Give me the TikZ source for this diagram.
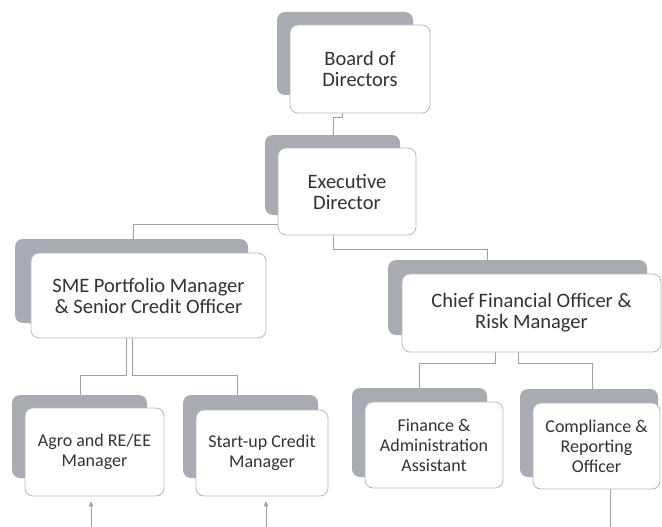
\documentclass[tikz,border=0pt]{standalone}
\usepackage{fontspec}
\setmainfont{Carlito}
\usetikzlibrary{arrows.meta}
\pgfdeclarelayer{background}
\pgfsetlayers{background,main}
\definecolor{shadowgray}{HTML}{A9ABB2}
\definecolor{boxline}{HTML}{B8B8B8}
\definecolor{connline}{HTML}{A0A0A0}
\definecolor{txt}{HTML}{333333}
\tikzset{
  shad/.style={fill=shadowgray, draw=none, rounded corners=8pt, inner sep=0pt},
  front/.style={fill=white, draw=boxline, line width=0.8pt, rounded corners=8pt, inner sep=0pt,
    align=center, text=txt},
  big/.style={font=\fontsize{20.5}{21}\selectfont},
  small/.style={font=\fontsize{18}{20}\selectfont},
  conn/.style={draw=connline, line width=0.8pt},
  arr/.style={draw=connline, line width=0.8pt, -{Triangle[length=5pt,width=4.5pt]}}
}
\begin{document}
\begin{tikzpicture}[x=1pt,y=-1pt]
\useasboundingbox (0,0) rectangle (662,527);
% shadows
\node[shad, minimum width=136pt, minimum height=83pt] (bodS) at (345,53.5) {};
\node[shad, minimum width=135pt, minimum height=80pt] (exeS) at (332.5,175) {};
\node[shad, minimum width=233pt, minimum height=84pt] (smeS) at (131.5,281) {};
\node[shad, minimum width=259pt, minimum height=75pt] (cfoS) at (517.5,297.5) {};
\node[shad, minimum width=135pt, minimum height=83pt] (agrS) at (79.5,436.5) {};
\node[shad, minimum width=135pt, minimum height=83pt] (stuS) at (250.5,436.5) {};
\node[shad, minimum width=135pt, minimum height=89pt] (finS) at (419.5,432.5) {};
\node[shad, minimum width=138pt, minimum height=88pt] (comS) at (589,433) {};
% front boxes
\node[front, big, minimum width=140pt, minimum height=88pt] (bod) at (360,69) {Board of\\Directors};
\node[front, big, minimum width=138pt, minimum height=87pt] (exe) at (347,191.5) {Executive\\Director};
\node[front, big, minimum width=235pt, minimum height=85pt] (sme) at (148.5,295.5) {SME Portfolio Manager\\\& Senior Credit Officer};
\node[front, big, minimum width=259pt, minimum height=78pt] (cfo) at (531.5,313) {Chief Financial Officer \&\\Risk Manager};
\node[front, small, minimum width=139pt, minimum height=88pt] (agr) at (94.5,452) {Agro and RE/EE\\Manager};
\node[front, small, minimum width=132pt, minimum height=86pt] (stu) at (262,453) {Start-up Credit\\Manager};
\node[front, small, minimum width=138pt, minimum height=86pt] (fin) at (434,445) {Finance \&\\Administration\\Assistant};
\node[front, small, minimum width=127pt, minimum height=86pt] (com) at (596.5,446) {Compliance \&\\Reporting\\Officer};
\coordinate (agrin) at (91,527);
\coordinate (stuin) at (266,527);
\coordinate (comout) at (610,527);
% connectors, behind the boxes
\begin{pgfonlayer}{background}
\draw[conn] ([xshift=-18pt]bod.south) -- ++(0,4) -- ++(-9,0) -- ([xshift=-14pt]exe.north);
\draw[conn] ([yshift=-32.5pt]exe.west) -| ([xshift=-15.5pt]sme.north);
\draw[conn] ([xshift=-14pt]exe.south) -- ++(0,14) -| ([xshift=-44.5pt]cfo.north);
\draw[conn] ([xshift=-22.5pt]sme.south) -- ++(0,37) -| ([xshift=-14.5pt]agr.north);
\draw[conn] ([xshift=-16.5pt]sme.south) -- ++(0,37) -| ([xshift=-25pt]stu.north);
\draw[conn] ([xshift=-36.5pt]cfo.south) -- ++(0,11) -| ([xshift=-15pt]fin.north);
\draw[conn] ([xshift=-13.5pt]cfo.south) -- ++(0,11) -| ([xshift=-4.5pt]com.north);
\draw[arr] (agrin) -- ([xshift=-3.5pt,yshift=-5pt]agr.south);
\draw[arr] (stuin) -- ([xshift=4pt,yshift=-5pt]stu.south);
\draw[conn] ([xshift=13.5pt]com.south) -- (comout);
\end{pgfonlayer}
\end{tikzpicture}
\end{document}
